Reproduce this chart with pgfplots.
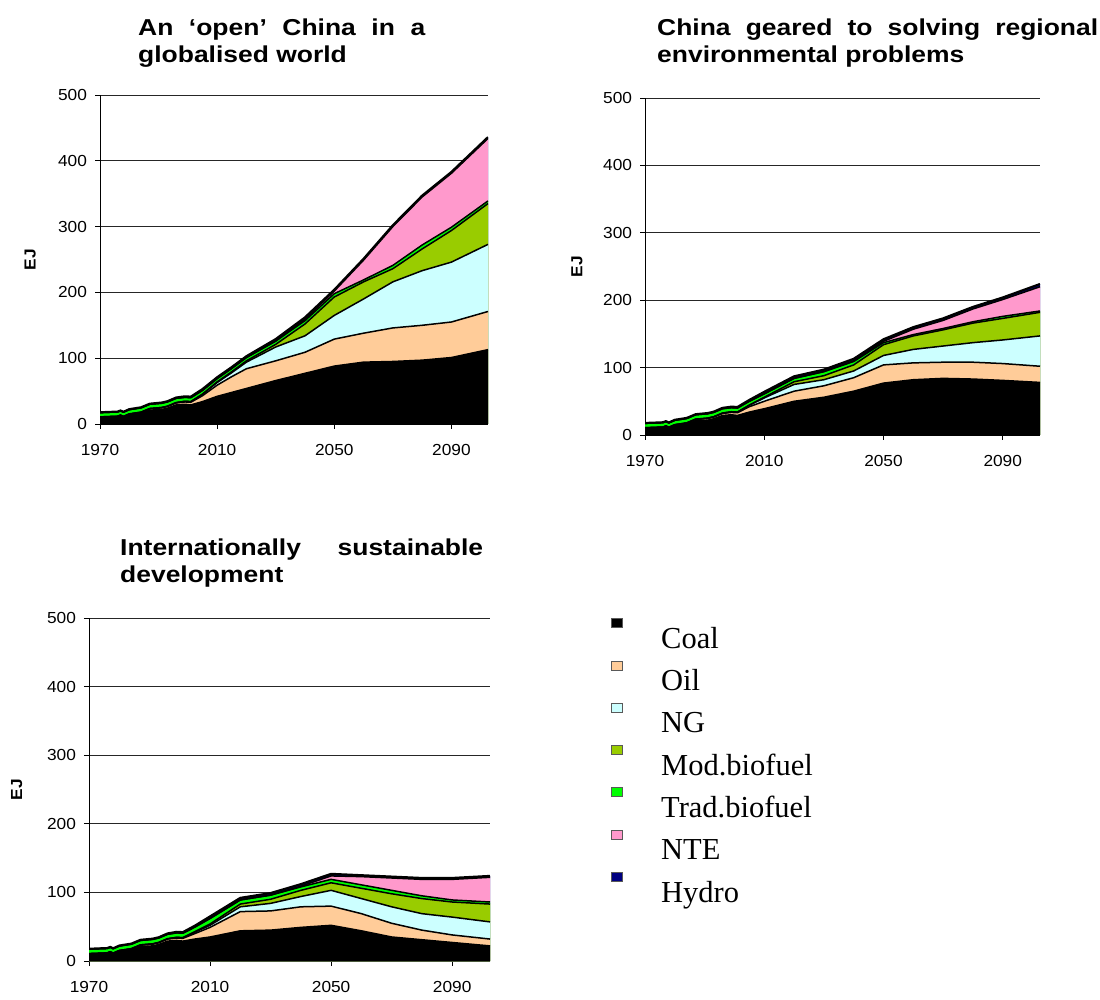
\documentclass[border=0pt]{standalone}
\usepackage{fontspec}
\setmainfont{Liberation Serif}
\newfontfamily\tickfont{Liberation Sans}[FakeStretch=1.08]
\newfontfamily\titlefont{Liberation Sans}[FakeStretch=1.15]
\usepackage{pgfplots}
\usepackage{pgfplotstable}
\pgfplotsset{compat=1.18}
\definecolor{coalc}{HTML}{000000}
\definecolor{oilc}{HTML}{FFCC99}
\definecolor{ngc}{HTML}{CCFFFF}
\definecolor{modc}{HTML}{99CC00}
\definecolor{tradc}{HTML}{00FF00}
\definecolor{ntec}{HTML}{FF99CC}
\definecolor{hydroc}{HTML}{000080}

% An 'open' China in a globalised world
\pgfplotstableread{
year coal oil ng mod trad nte hydro
1970 10 0.5 0.3 0 6.5 0 0.5
1976 11 0.5 0.3 0 6.5 0 0.5
1977 12.5 0.7 0.3 0 6.5 0 0.5
1978 10.5 0.7 0.3 0 6.5 0 0.5
1980 14 1 0.3 0 6.5 0 0.7
1984 16 1.5 0.5 0 6.5 0 0.8
1987 21 2 0.5 0 6.5 0 0.8
1991 22 2.5 0.5 0 6.5 0 1
1993 24 2.5 0.5 0 6.5 0 1
1996 29 3 0.5 0 6.5 0 1.2
1999 30 3.5 1 0 6 0 1.5
2001 29 4 1 0 6 0 1.5
2005 34 9 2 0.5 5.5 0 2
2010 42 17 4 1 5 0 2
2015 48 24 6 1.5 5 0 2
2020 54 30 10 2 5 0 2
2030 66 30 21 4 5 0 3
2040 77 32 25 18 5 2 3
2050 88 41 36 28 5 4 2
2060 94 44 52 26 3 30 2
2070 95 51 70 20 5 59 2
2080 97 53 83 33 6 73 2
2090 101 54 91 48 5 82 2
2102.5 113 58 102 62 4 95 2
}\tA

% China geared to solving regional environmental problems
\pgfplotstableread{
year coal oil ng mod trad nte hydro
1970 10 0.5 0.3 0 6.5 0 0.5
1976 11 0.5 0.3 0 6.5 0 0.5
1977 12.5 0.7 0.3 0 6.5 0 0.5
1978 10.5 0.7 0.3 0 6.5 0 0.5
1980 14 1 0.3 0 6.5 0 0.7
1984 16 1.5 0.5 0 6.5 0 0.8
1987 21 2 0.5 0 6.5 0 0.8
1991 22 2.5 0.5 0 6.5 0 1
1993 24 2.5 0.5 0 6.5 0 1
1996 29 3 0.5 0 6.5 0 1.2
1999 30 3.5 1 0 6 0 1.5
2001 29 4 1 0 6 0 1.5
2005 34 8 2 0.5 5.5 0 2
2010 39 11 5 1 5 0 3
2020 50 15 10 4 5 0 3
2030 56 17 9 6 6 0 3
2040 65 20 10 9 5 1 3
2050 77 27 14 16 3 2 3
2060 82 25 20 20 2 8 3
2070 84 24 24 24 2 12 3
2080 83 25 29 29 2 19 3
2090 81 25 35 32 3 25 3
2102.5 78 24 45 35 2 36 4
}\tB

% Internationally sustainable development
\pgfplotstableread{
year coal oil ng mod trad nte hydro
1970 10 0.5 0.3 0 6.5 0 0.5
1976 11 0.5 0.3 0 6.5 0 0.5
1977 12.5 0.7 0.3 0 6.5 0 0.5
1978 10.5 0.7 0.3 0 6.5 0 0.5
1980 14 1 0.3 0 6.5 0 0.7
1984 16 1.5 0.5 0 6.5 0 0.8
1987 21 2 0.5 0 6.5 0 0.8
1991 22 2.5 0.5 0 6.5 0 1
1993 24 2.5 0.5 0 6.5 0 1
1996 29 3 0.5 0 6.5 0 1.2
1999 30 3.5 1 0 6.5 0 1.5
2001 29 4 1 0 6.5 0 1.5
2005 32 8 2 1 6.5 0 2
2010 35 14 3 2 8 0 3
2020 44 28 7 4 6 0 3
2030 45 28 11 6 6 0 3
2040 49 30 15 9 5 1 3
2050 52 28 23 11 5 5 3
2060 44 25 22 15 5 12 2
2070 35 20 24 19 5 18 2
2080 31 14 24 22 4 24 2
2090 27 11 26 22 3 30 2
2102.5 22 10 25 26 3 36 2
}\tC

\pgfplotsset{
  energy/.style={
    scale only axis,
    xmin=1970, xmax=2102.5, ymin=0, ymax=500,
    xtick={1970,2010,2050,2090}, ytick={0,100,200,300,400,500},
    axis x line*=bottom, axis y line*=left,
    tick align=outside, major tick length=5pt,
    tick style={black, line width=0.8pt},
    ymajorgrids, grid style={black!85, line width=0.8pt},
    axis line style={black, line width=0.8pt, -},
    ticklabel style={font=\tickfont\fontsize{16}{16}\selectfont},
    /pgf/number format/assume math mode=true,
    /pgf/number format/1000 sep={},
    xticklabel style={yshift=-12pt},
    yticklabel style={xshift=-4.5pt},
    ylabel={EJ},
    ylabel style={font=\tickfont\bfseries\fontsize{16}{16}\selectfont, anchor=center},
  },
}

\newcommand\energyplots[1]{%
  \addplot[fill=hydroc, draw=none] table[x=year, y expr=\thisrow{coal}+\thisrow{oil}+\thisrow{ng}+\thisrow{mod}+\thisrow{trad}+\thisrow{nte}+\thisrow{hydro}] {#1} \closedcycle;
  \addplot[fill=ntec, draw=none] table[x=year, y expr=\thisrow{coal}+\thisrow{oil}+\thisrow{ng}+\thisrow{mod}+\thisrow{trad}+\thisrow{nte}] {#1} \closedcycle;
  \addplot[fill=tradc, draw=none] table[x=year, y expr=\thisrow{coal}+\thisrow{oil}+\thisrow{ng}+\thisrow{mod}+\thisrow{trad}] {#1} \closedcycle;
  \addplot[fill=modc, draw=none] table[x=year, y expr=\thisrow{coal}+\thisrow{oil}+\thisrow{ng}+\thisrow{mod}] {#1} \closedcycle;
  \addplot[fill=ngc, draw=none] table[x=year, y expr=\thisrow{coal}+\thisrow{oil}+\thisrow{ng}] {#1} \closedcycle;
  \addplot[fill=oilc, draw=none] table[x=year, y expr=\thisrow{coal}+\thisrow{oil}] {#1} \closedcycle;
  \addplot[fill=coalc, draw=none] table[x=year, y=coal] {#1} \closedcycle;
  \addplot[forget plot, black, line width=1.5pt, line join=round] table[x=year, y=coal] {#1};
  \addplot[forget plot, black, line width=1.5pt, line join=round] table[x=year, y expr=\thisrow{coal}+\thisrow{oil}] {#1};
  \addplot[forget plot, black, line width=1.5pt, line join=round] table[x=year, y expr=\thisrow{coal}+\thisrow{oil}+\thisrow{ng}] {#1};
  \addplot[forget plot, black, line width=1.5pt, line join=round] table[x=year, y expr=\thisrow{coal}+\thisrow{oil}+\thisrow{ng}+\thisrow{mod}] {#1};
  \addplot[forget plot, black, line width=1.5pt, line join=round] table[x=year, y expr=\thisrow{coal}+\thisrow{oil}+\thisrow{ng}+\thisrow{mod}+\thisrow{trad}] {#1};
  \addplot[forget plot, black, line width=1.5pt, line join=round] table[x=year, y expr=\thisrow{coal}+\thisrow{oil}+\thisrow{ng}+\thisrow{mod}+\thisrow{trad}+\thisrow{nte}] {#1};
  \addplot[forget plot, black, line width=2.2pt, line join=round] table[x=year, y expr=\thisrow{coal}+\thisrow{oil}+\thisrow{ng}+\thisrow{mod}+\thisrow{trad}+\thisrow{nte}+\thisrow{hydro}] {#1};
}

\begin{document}
\begin{tikzpicture}[x=1pt, y=1pt]
\useasboundingbox (0,0) rectangle (1100,999);

% Chart 1
\begin{axis}[energy, at={(100pt,575pt)}, anchor=south west, width=388pt, height=329pt,
  ylabel style={at={(axis description cs:-0.18,0.5)}}]
\energyplots{\tA}
\end{axis}

% Chart 2
\begin{axis}[energy, at={(645pt,564pt)}, anchor=south west, width=395pt, height=337pt,
  ylabel style={at={(axis description cs:-0.172,0.5)}}]
\energyplots{\tB}
\end{axis}

% Chart 3 with legend
\begin{axis}[energy, at={(89pt,38pt)}, anchor=south west, width=401pt, height=343pt,
  ylabel style={at={(axis description cs:-0.18,0.5)}},
  legend style={draw=none, fill=none, at={(axis description cs:1.3017,1)}, anchor=north west,
    inner sep=0pt, row sep=12.3pt, column sep=38pt,
    font=\fontsize{30.5}{30.5}\selectfont,
    nodes={inner sep=0pt, text height=30pt, text depth=0pt}},
  legend cell align=left,
  legend image code/.code={\path[draw=none, fill=none] (0pt,-15pt) rectangle (12pt,15pt);
    \draw[#1, draw=black!65, line width=1pt] (0.5pt,5.5pt) rectangle (11.5pt,14.5pt);},
  reverse legend]
\energyplots{\tC}
\legend{Hydro,NTE,Trad.biofuel,Mod.biofuel,NG,Oil,Coal}
\end{axis}

% Titles
\begin{scope}
\clip (0,930) rectangle (1100,999);
\node[anchor=base west, inner sep=0pt, font=\titlefont\bfseries\fontsize{23}{27}\selectfont] at (138,963) {\makebox[287pt][s]{An ‘open’ China in a}};
\node[anchor=base west, inner sep=0pt, font=\titlefont\bfseries\fontsize{23}{27}\selectfont] at (138,936) {globalised world};
\node[anchor=base west, inner sep=0pt, font=\titlefont\bfseries\fontsize{23}{27}\selectfont] at (657,963) {\makebox[441pt][s]{China geared to solving regional}};
\node[anchor=base west, inner sep=0pt, font=\titlefont\bfseries\fontsize{23}{27}\selectfont] at (657,936) {environmental problems};
\end{scope}
\begin{scope}
\clip (0,411) rectangle (600,480);
\node[anchor=base west, inner sep=0pt, font=\titlefont\bfseries\fontsize{23}{27}\selectfont] at (120,443) {\makebox[363pt][s]{Internationally sustainable}};
\node[anchor=base west, inner sep=0pt, font=\titlefont\bfseries\fontsize{23}{27}\selectfont] at (120,416) {development};
\end{scope}
\end{tikzpicture}
\end{document}
